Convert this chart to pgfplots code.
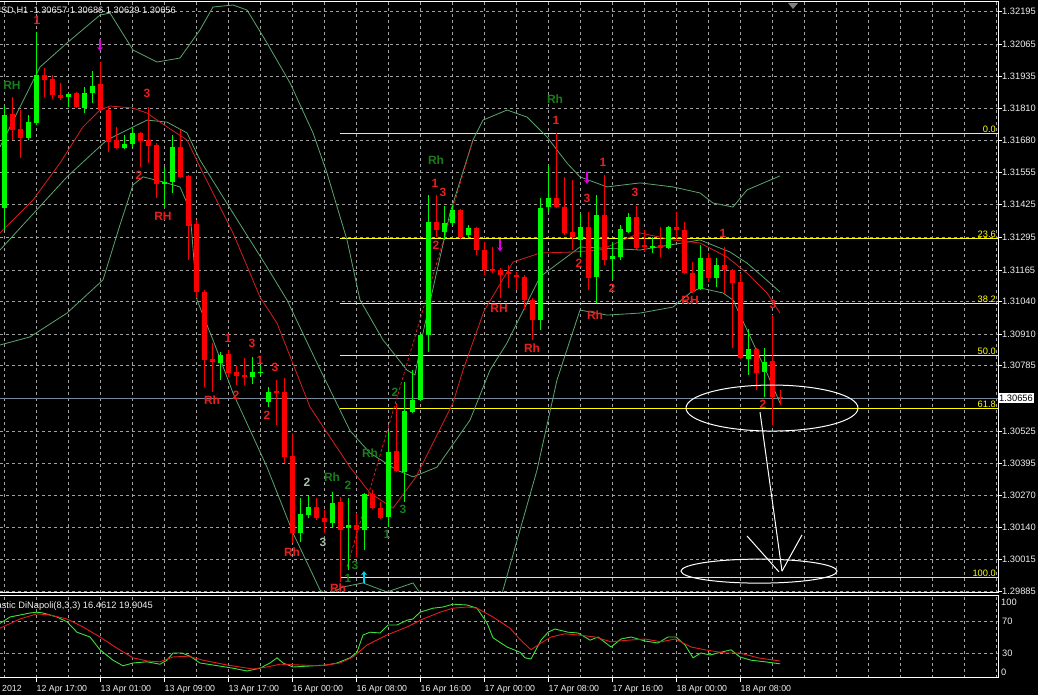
\documentclass[border=0pt]{standalone}
\usepackage{fontspec}
\setmainfont{Liberation Sans}
\usepackage{pgfplots}
\pgfplotsset{compat=1.18}
\usepackage{pgfplotstable}
\usetikzlibrary{arrows.meta}

\definecolor{bull}{RGB}{0,250,0}
\definecolor{bear}{RGB}{250,0,0}
\definecolor{band}{RGB}{90,165,110}
\definecolor{ma}{RGB}{215,30,30}
\definecolor{gridc}{RGB}{160,160,160}
\definecolor{fib}{RGB}{255,255,0}
\definecolor{bid}{RGB}{119,136,153}
\definecolor{lred}{RGB}{235,30,30}
\definecolor{lgreen}{RGB}{25,125,25}
\definecolor{lgray}{RGB}{170,190,170}
\definecolor{pinkarr}{RGB}{225,0,225}
\definecolor{cyanarr}{RGB}{0,215,230}
\definecolor{ktxt}{RGB}{240,240,240}
\definecolor{stk}{RGB}{60,225,60}
\definecolor{std}{RGB}{225,30,30}

% bearish bars: index open high low close
\pgfplotstableread{
i o h l c
1 1.31786 1.31854 1.31683 1.31723
2 1.31727 1.31802 1.31611 1.31691
5 1.31942 1.31969 1.31854 1.31922
6 1.31926 1.31942 1.31846 1.31862
7 1.31862 1.31910 1.31842 1.31850
9 1.31870 1.31872 1.31810 1.31814
12 1.31906 1.31993 1.31798 1.31802
13 1.31802 1.31814 1.31635 1.31675
14 1.31683 1.31735 1.31648 1.31651
17 1.31711 1.31715 1.31575 1.31679
18 1.31683 1.31814 1.31591 1.31659
19 1.31663 1.31671 1.31452 1.31508
22 1.31655 1.31723 1.31532 1.31536
23 1.31540 1.31544 1.31205 1.31341
24 1.31348 1.31364 1.31054 1.31078
25 1.31078 1.31086 1.30700 1.30807
26 1.30811 1.30875 1.30680 1.30799
28 1.30831 1.30847 1.30740 1.30755
29 1.30759 1.30787 1.30708 1.30744
30 1.30748 1.30815 1.30708 1.30740
34 1.30684 1.30728 1.30549 1.30676
35 1.30680 1.30736 1.30397 1.30421
36 1.30425 1.30517 1.30079 1.30119
39 1.30222 1.30258 1.30170 1.30178
40 1.30178 1.30210 1.30119 1.30162
42 1.30242 1.30262 1.29924 1.30131
44 1.30151 1.30198 1.30023 1.30131
46 1.30274 1.30290 1.30214 1.30218
47 1.30218 1.30242 1.30174 1.30178
49 1.30445 1.30636 1.30361 1.30365
54 1.31356 1.31464 1.31297 1.31325
57 1.31404 1.31408 1.31289 1.31297
59 1.31333 1.31337 1.31225 1.31245
60 1.31245 1.31277 1.31146 1.31165
61 1.31169 1.31257 1.31153 1.31161
62 1.31165 1.31173 1.31054 1.31146
63 1.31157 1.31185 1.31094 1.31149
64 1.31146 1.31157 1.31086 1.31138
65 1.31138 1.31146 1.31006 1.31046
66 1.31046 1.31054 1.30887 1.30966
69 1.31452 1.31711 1.31412 1.31416
70 1.31416 1.31536 1.31305 1.31313
71 1.31317 1.31524 1.31245 1.31297
73 1.31337 1.31396 1.31086 1.31134
75 1.31384 1.31544 1.31185 1.31205
79 1.31376 1.31420 1.31249 1.31253
80 1.31265 1.31325 1.31237 1.31257
82 1.31265 1.31337 1.31217 1.31253
84 1.31337 1.31396 1.31285 1.31325
85 1.31325 1.31356 1.31149 1.31153
86 1.31153 1.31197 1.31074 1.31078
88 1.31213 1.31233 1.31118 1.31134
90 1.31185 1.31257 1.31074 1.31165
91 1.31165 1.31169 1.30855 1.31114
92 1.31118 1.31153 1.30811 1.30815
94 1.30851 1.30855 1.30688 1.30755
96 1.30803 1.30986 1.30549 1.30660
97 1.30657 1.30686 1.30629 1.30656
}\redc

% bullish bars
\pgfplotstableread{
i o h l c
0 1.31412 1.31822 1.31325 1.31782
3 1.31691 1.31782 1.31683 1.31754
4 1.31750 1.32113 1.31743 1.31942
8 1.31854 1.31870 1.31814 1.31866
10 1.31810 1.31894 1.31790 1.31870
11 1.31870 1.31957 1.31830 1.31898
15 1.31651 1.31703 1.31645 1.31667
16 1.31667 1.31731 1.31655 1.31711
20 1.31508 1.31575 1.31412 1.31516
21 1.31516 1.31703 1.31472 1.31655
27 1.30795 1.30839 1.30728 1.30827
31 1.30740 1.30819 1.30712 1.30759
32 1.30755 1.30787 1.30748 1.30759
33 1.30640 1.30701 1.30620 1.30680
37 1.30119 1.30258 1.30083 1.30194
38 1.30190 1.30266 1.30178 1.30222
41 1.30158 1.30282 1.30143 1.30238
43 1.30139 1.30258 1.29971 1.30151
45 1.30131 1.30278 1.30051 1.30274
48 1.30182 1.30526 1.30143 1.30441
50 1.30361 1.30720 1.30242 1.30604
51 1.30600 1.30767 1.30596 1.30648
52 1.30648 1.30911 1.30644 1.30907
53 1.30907 1.31464 1.30839 1.31356
55 1.31317 1.31420 1.31285 1.31352
56 1.31352 1.31420 1.31345 1.31404
58 1.31305 1.31345 1.31293 1.31333
67 1.30966 1.31452 1.30927 1.31412
68 1.31416 1.31583 1.31396 1.31452
72 1.31285 1.31392 1.31217 1.31337
74 1.31138 1.31464 1.31034 1.31384
76 1.31209 1.31277 1.31126 1.31221
77 1.31217 1.31345 1.31205 1.31329
78 1.31317 1.31392 1.31313 1.31376
81 1.31253 1.31297 1.31233 1.31261
83 1.31253 1.31341 1.31249 1.31337
87 1.31090 1.31265 1.31086 1.31213
89 1.31134 1.31213 1.31098 1.31185
93 1.30811 1.30931 1.30748 1.30851
95 1.30760 1.30855 1.30660 1.30799
}\greenc

\pgfplotsset{
  wick/.style={draw=none, mark=none, forget plot,
    error bars/.cd, y dir=plus, y explicit, error mark=none,
    error bar style={draw=#1, line width=1pt}},
  body/.style={draw=none, mark=none, forget plot,
    error bars/.cd, y dir=plus, y explicit, error mark=none,
    error bar style={draw=#1, line width=5pt}},
}
\tikzset{
  lab/.style={font=\fontsize{12}{12}\selectfont\bfseries, inner sep=0pt},
  smalltxt/.style={font=\fontsize{9.3}{11}\selectfont},
  datetxt/.style={font=\fontsize{8.8}{10}\selectfont},
}

\begin{document}
\begin{tikzpicture}
\fill[black] (0,0) rectangle (1038pt,695pt);
\path[use as bounding box] (0,0) rectangle (1038pt,695pt);
\clip (0,0) rectangle (1038pt,695pt);

% ---- price panel ----
\begin{axis}[
  at={(0pt,102pt)}, anchor=south west,
  width=998pt, height=591pt, scale only axis,
  xmin=-0.5, xmax=124.25, ymin=1.29880, ymax=1.32232,
  clip mode=individual,
  axis line style={draw=none},
  xtick={0,4,...,124}, xticklabels={}, xtick style={draw=none},
  ytick={1.29885,1.30015,1.30140,1.30270,1.30395,1.30525,1.30655,1.30785,1.30910,1.31040,1.31165,1.31295,1.31425,1.31555,1.31680,1.31810,1.31935,1.32065,1.32195},
  yticklabels={1.29885,1.30015,1.30140,1.30270,1.30395,1.30525,{},1.30785,1.30910,1.31040,1.31165,1.31295,1.31425,1.31555,1.31680,1.31810,1.31935,1.32065,1.32195},
  scaled y ticks=false,
  ytick pos=right, tick align=outside, major tick length=3.5pt,
  ytick style={draw=white, line width=0.8pt},
  yticklabel style={smalltxt, text=ktxt, anchor=west, inner xsep=0pt, xshift=0.5pt},
  xmajorgrids, ymajorgrids,
  major grid style={draw=gridc, dash pattern=on 3pt off 3pt, line width=0.6pt},
]
% fibonacci levels
\addplot[fib, line width=1pt] coordinates {(42,1.31707) (124.25,1.31707)};
\addplot[fib, line width=1pt] coordinates {(42,1.31290) (124.25,1.31290)};
\addplot[fib, line width=1pt] coordinates {(42,1.31032) (124.25,1.31032)};
\addplot[fib, line width=1pt] coordinates {(42,1.30824) (124.25,1.30824)};
\addplot[fib, line width=1pt] coordinates {(42,1.30615) (124.25,1.30615)};
\addplot[fib, line width=1pt] coordinates {(42,1.29940) (124.25,1.29940)};
% bid line
\addplot[bid, line width=1pt] coordinates {(-0.5,1.30656) (124.25,1.30656)};

% bands and moving averages
\addplot[band, line width=0.8pt] coordinates {
(-0.5,1.31655) (4.5,1.31973) (7.875,1.32069) (12,1.32180) (13.25,1.32188) (16.125,1.32041)
(19.125,1.31993) (22,1.32009) (24.5,1.32121) (26.125,1.32212) (28.625,1.32220) (30.375,1.32200)
(32.875,1.32069) (35.75,1.31910) (38.625,1.31711) (40.375,1.31551) (42.875,1.31285) (44.5,1.31046)
(47.375,1.30887) (50.375,1.30767) (51.375,1.30748) (52.375,1.30915) (55.75,1.31392) (58.625,1.31683)
(59.875,1.31762) (62.875,1.31802) (65.375,1.31774) (67.875,1.31695) (70.375,1.31591) (72,1.31536)
(75.375,1.31496) (79.5,1.31512) (83.625,1.31496) (87,1.31472) (88.625,1.31432) (91.125,1.31416)
(92.875,1.31484) (97,1.31540)};
\addplot[band, line width=0.8pt] coordinates {
(-0.5,1.31245) (7.875,1.31536) (12.875,1.31683) (17.875,1.31762) (20.375,1.31754) (22.875,1.31711)
(24.5,1.31603) (28.625,1.31392) (32.875,1.31177) (35.375,1.31046) (39.125,1.30795) (42,1.30608)
(43.25,1.30526) (45.75,1.30437) (49.125,1.30369) (51.125,1.30342) (54.125,1.30381) (58.25,1.30568)
(60.75,1.30767) (62.875,1.30875) (67,1.31138) (72,1.31257) (79.5,1.31245) (87,1.31285)
(90.75,1.31237) (92.875,1.31193) (94.875,1.31138) (97,1.31078)};
\addplot[band, line width=0.8pt] coordinates {
(-0.5,1.30867) (3.25,1.30899) (7.875,1.30994) (12.375,1.31126) (14.5,1.31345) (16.125,1.31504)
(17.375,1.31536) (19.875,1.31516) (22,1.31496) (23.25,1.31404) (24.125,1.31046) (26.125,1.30887)
(28.625,1.30676) (32.875,1.30381) (36.125,1.30119) (39.5,1.29892) (40.375,1.29872) (42.375,1.29904)
(44.875,1.29920) (47.875,1.29884) (51.125,1.29920) (52.625,1.29852) (56,1.29560) (58.5,1.29480)
(60.5,1.29640) (62.375,1.29892) (66.625,1.30369) (69.125,1.30728) (72,1.31006) (75.375,1.30986)
(79.5,1.30994) (83.625,1.31018) (85.75,1.31074) (87,1.31094) (89.875,1.31074) (91.125,1.31046)
(92.875,1.30927) (95.375,1.30755) (97,1.30636)};
\addplot[ma, line width=0.8pt] coordinates {
(-0.5,1.31313) (3.625,1.31444) (7,1.31591) (9.875,1.31735) (12,1.31802) (13.25,1.31818)
(16.125,1.31810) (17.875,1.31790) (20.375,1.31735) (22.875,1.31683) (24.5,1.31575) (28.625,1.31313)
(32,1.31058) (34.125,1.30954) (38.25,1.30620) (43.25,1.30381) (45.75,1.30278) (48.625,1.30218)
(51.5,1.30342) (56.125,1.30636) (57.375,1.30767) (60,1.31002) (63.625,1.31197) (67,1.31233)
(71.125,1.31237) (74.5,1.31245) (79.5,1.31313) (83.625,1.31285) (87,1.31273) (90.375,1.31217)
(92.875,1.31153) (95.375,1.31074) (97,1.30994)};
\addplot[ma, line width=0.8pt, dash pattern=on 3pt off 2pt] coordinates {(42.875,1.29983) (58.625,1.31683)};

% candles
\addplot[wick=bear] table[x=i, y=l, y error expr=\thisrow{h}-\thisrow{l}] {\redc};
\addplot[body=bear] table[x=i, y=c, y error expr={max(\thisrow{o}-\thisrow{c},0.00003)}] {\redc};
\addplot[wick=bull] table[x=i, y=l, y error expr=\thisrow{h}-\thisrow{l}] {\greenc};
\addplot[body=bull] table[x=i, y=o, y error expr={max(\thisrow{c}-\thisrow{o},0.00003)}] {\greenc};

% pattern labels
\node[lab, text=lred] at (axis cs:4.125,1.32160) {1};
\node[lab, text=lred] at (axis cs:17.875,1.31870) {3};
\node[lab, text=lred] at (axis cs:16.875,1.31544) {2};
\node[lab, text=lred] at (axis cs:19.875,1.31380) {RH};
\node[lab, text=lred] at (axis cs:28,1.30895) {1};
\node[lab, text=lred] at (axis cs:31,1.30875) {3};
\node[lab, text=lred] at (axis cs:32,1.30807) {1};
\node[lab, text=lred] at (axis cs:33.875,1.30779) {3};
\node[lab, text=lred] at (axis cs:26,1.30648) {Rh};
\node[lab, text=lred] at (axis cs:29,1.30668) {2};
\node[lab, text=lred] at (axis cs:32.875,1.30588) {2};
\node[lab, text=lred] at (axis cs:36,1.30043) {Rh};
\node[lab, text=lred] at (axis cs:41.75,1.29900) {Rh};
\node[lab, text=lred] at (axis cs:53.875,1.31512) {1};
\node[lab, text=lred] at (axis cs:54.875,1.31476) {3};
\node[lab, text=lred] at (axis cs:54,1.31265) {2};
\node[lab, text=lred] at (axis cs:61.875,1.31014) {RH};
\node[lab, text=lred] at (axis cs:66,1.30855) {Rh};
\node[lab, text=lred] at (axis cs:69,1.31762) {1};
\node[lab, text=lred] at (axis cs:74.875,1.31595) {1};
\node[lab, text=lred] at (axis cs:72.875,1.31452) {3};
\node[lab, text=lred] at (axis cs:71.875,1.31193) {2};
\node[lab, text=lred] at (axis cs:76,1.31094) {2};
\node[lab, text=lred] at (axis cs:73.875,1.30986) {Rh};
\node[lab, text=lred] at (axis cs:78.875,1.31476) {3};
\node[lab, text=lred] at (axis cs:89.875,1.31313) {1};
\node[lab, text=lred] at (axis cs:85.75,1.31046) {RH};
\node[lab, text=lred] at (axis cs:96.125,1.31030) {3};
\node[lab, text=lred] at (axis cs:94.875,1.30632) {2};
\node[lab, text=lgreen] at (axis cs:1,1.31902) {RH};
\node[lab, text=lgreen] at (axis cs:54,1.31603) {Rh};
\node[lab, text=lgreen] at (axis cs:68.875,1.31846) {Rh};
\node[lab, text=lgreen] at (axis cs:41,1.30342) {Rh};
\node[lab, text=lgreen] at (axis cs:43,1.30310) {2};
\node[lab, text=lgreen] at (axis cs:45.75,1.30437) {Rh};
\node[lab, text=lgreen] at (axis cs:48.875,1.30680) {2};
\node[lab, text=lgreen] at (axis cs:49.875,1.30214) {3};
\node[lab, text=lgreen] at (axis cs:47.875,1.30115) {1};
\node[lab, text=lgreen] at (axis cs:43,1.29940) {1};
\node[lab, text=lgreen] at (axis cs:43.875,1.29991) {3};
\node[lab, text=lgray] at (axis cs:37.875,1.30322) {2};
\node[lab, text=lgray] at (axis cs:39.875,1.30083) {3};

% signal arrows
\draw[pinkarr, line width=1.3pt, -{Stealth[length=4pt,width=6pt]}] (axis cs:12,1.32085) -- (axis cs:12,1.32037);
\draw[pinkarr, line width=1.3pt, -{Stealth[length=4pt,width=6pt]}] (axis cs:62,1.31289) -- (axis cs:62,1.31240);
\draw[pinkarr, line width=1.3pt, -{Stealth[length=4pt,width=6pt]}] (axis cs:72.875,1.31555) -- (axis cs:72.875,1.31508);
\draw[cyanarr, line width=1.3pt, -{Stealth[length=4pt,width=6pt]}] (axis cs:45,1.29920) -- (axis cs:45,1.29967);

% hand drawn target
\draw[white, line width=1pt] (axis cs:96,1.30616) ellipse [x radius=86pt, y radius=23pt];
\draw[white, line width=1pt] (axis cs:94.375,1.29967) ellipse [x radius=78pt, y radius=12pt];
\draw[white, line width=1pt] (axis cs:94.5,1.30600) -- (axis cs:97.25,1.29967);
\draw[white, line width=1pt] (axis cs:92.875,1.30107) -- (axis cs:96.875,1.29964);
\draw[white, line width=1pt] (axis cs:97.25,1.29967) -- (axis cs:99.75,1.30111);

% fibo level captions
\node[smalltxt, text=fib, anchor=south east, inner sep=1pt] at (axis cs:124.125,1.31707) {0.0};
\node[smalltxt, text=fib, anchor=south east, inner sep=1pt] at (axis cs:124.125,1.31290) {23.6};
\node[smalltxt, text=fib, anchor=south east, inner sep=1pt] at (axis cs:124.125,1.31032) {38.2};
\node[smalltxt, text=fib, anchor=south east, inner sep=1pt] at (axis cs:124.125,1.30824) {50.0};
\node[smalltxt, text=fib, anchor=south east, inner sep=1pt] at (axis cs:124.125,1.30615) {61.8};
\node[smalltxt, text=fib, anchor=south east, inner sep=1pt] at (axis cs:124.125,1.29940) {100.0};

% current price tag and header
\node[smalltxt, fill=white, text=black, anchor=west, inner xsep=1pt, inner ysep=1.8pt] at (axis cs:124.25,1.30656) {1.30656};
\node[smalltxt, text=ktxt, anchor=base east, inner sep=0pt, xshift=176pt, yshift=-12pt] at (rel axis cs:0,1) {EURUSD,H1\ \ 1.30657 1.30686 1.30629 1.30656};
\fill[gray] ([xshift=788pt,yshift=-1pt]rel axis cs:0,1) -- ([xshift=798pt,yshift=-1pt]rel axis cs:0,1) -- ([xshift=793pt,yshift=-7pt]rel axis cs:0,1) -- cycle;
\draw[white, line width=1pt] (rel axis cs:0,1) -- (rel axis cs:1,1) -- (rel axis cs:1,0) -- (rel axis cs:0,0);
\end{axis}

% ---- stochastic panel ----
\begin{axis}[
  at={(0pt,17pt)}, anchor=south west,
  width=998pt, height=82pt, scale only axis,
  xmin=-0.5, xmax=124.25, ymin=-1.25, ymax=101.25,
  clip mode=individual,
  axis line style={draw=none},
  xtick={0,4,...,124}, xticklabels={}, xtick style={draw=none},
  xtick pos=bottom, tick align=outside, major tick length=4pt,
  extra x ticks={4,12,...,92},
  extra x tick labels={12 Apr 17:00,13 Apr 01:00,13 Apr 09:00,13 Apr 17:00,16 Apr 00:00,16 Apr 08:00,16 Apr 16:00,17 Apr 00:00,17 Apr 08:00,17 Apr 16:00,18 Apr 00:00,18 Apr 08:00},
  extra x tick style={grid=none, xtick style={draw=white, line width=0.8pt}},
  xticklabel style={datetxt, text=ktxt, anchor=north west, inner xsep=0.5pt},
  ytick={30,70}, yticklabels={30,70}, ytick pos=right,
  ytick style={draw=none},
  yticklabel style={smalltxt, text=ktxt, anchor=west, inner xsep=0pt},
  xmajorgrids, ymajorgrids,
  major grid style={draw=gridc, dash pattern=on 3pt off 3pt, line width=0.6pt},
]
\addplot[stk, line width=0.9pt] coordinates {
(-0.5,67) (0.75,75) (2,77.5) (3.25,80) (4.125,81) (4.875,80) (6.625,75) (7.875,69) (9.125,56)
(10.75,50) (12,34) (13.625,21) (14.875,14) (16.125,17.5) (17.875,19) (19.5,16) (20.375,21)
(21.125,30) (22.25,30) (23.25,26) (24.5,17.5) (26.125,15) (28.625,11) (30.375,7.5) (32,11)
(33.25,17.5) (34.125,24) (34.875,17.5) (36.125,12.5) (38.625,14) (40.375,15) (41.625,17.5)
(43.25,24) (44.125,31) (44.875,52.5) (45.75,56) (47,55) (48,65) (49.125,65) (50.375,71)
(51.125,72.5) (52,81) (53.625,86) (54.875,87.5) (56.125,91) (57.875,90) (59.125,86) (60.375,67.5)
(61.125,49) (62.875,37.5) (64.5,31) (65.125,24) (65.875,22.5) (67.125,46) (68,56) (68.875,60)
(70.5,56) (71.75,55) (72.625,50) (73.25,46) (74.25,50) (75.875,37.5) (77.125,47.5) (78.375,50)
(80.125,45) (81.75,42.5) (83,50) (84,50) (85.125,40) (86.125,24) (87.125,30) (88.25,27.5)
(89.25,30) (90.875,34) (92,25) (93.375,21) (95.125,19) (97,16.46)};
\addplot[std, line width=0.9pt] coordinates {
(-0.5,61) (2,72.5) (4.125,79) (5.75,77.5) (7.875,72.5) (9.875,62.5) (12,50) (14.125,36)
(16.125,24) (17.875,20) (19.5,19) (21.125,25) (23,26) (24.875,21) (27.875,15) (31.125,10)
(32.875,12.5) (34.5,16) (37,15) (39.5,14) (42,17.5) (43.625,25) (45.375,40) (47.875,52.5)
(50.375,62.5) (52.375,72.5) (54.5,81) (56.125,86) (57.875,87.5) (59.125,86) (61.125,75)
(63.25,61) (64.5,47) (65.875,34) (67.125,42.5) (68.375,50) (70.125,54) (71.75,52.5) (73.875,50)
(75.875,44) (78,46) (80.125,47.5) (82.125,44) (83.875,47.5) (85.875,37.5) (87.625,34)
(90.125,30) (92,30) (94.25,24) (97,19.90)};
\node[smalltxt, text=ktxt, anchor=west, inner sep=0pt, xshift=3pt] at (axis cs:124.25,93.75) {100};
\node[smalltxt, text=ktxt, anchor=west, inner sep=0pt, xshift=3pt] at (axis cs:124.25,6.25) {0};
\node[smalltxt, text=ktxt, anchor=base east, inner sep=0pt, xshift=153pt, yshift=-13pt] at (rel axis cs:0,1) {Stochastic DiNapoli(8,3,3) 16.4612 19.9045};
\node[datetxt, text=ktxt, anchor=base east, inner sep=0pt, xshift=22pt, yshift=-14pt] at (rel axis cs:0,0) {12 Apr 2012};
\draw[white, line width=1pt] (rel axis cs:0,1) -- (rel axis cs:1,1) -- (rel axis cs:1,0) -- (rel axis cs:0,0);
\end{axis}
\end{tikzpicture}
\end{document}
